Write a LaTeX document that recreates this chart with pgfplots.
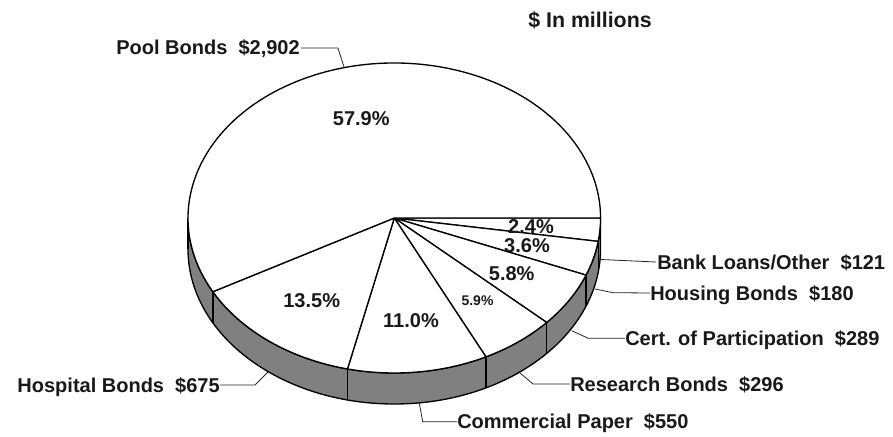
\documentclass[border=0pt]{standalone}
\usepackage{pgfplots}
\usepackage{pgfplotstable}
\pgfplotsset{compat=1.18}
\usepackage{fontspec}
\setmainfont{Liberation Sans}
\definecolor{sidegray}{RGB}{128,128,128}
\pgfplotstableread{
value
121
180
289
296
550
675
2902
}\piedata
\begin{document}
\begin{tikzpicture}[
  pieline/.style={draw=black, line width=1pt, line join=round},
  lead/.style={draw=black!85, line width=0.6pt},
  lbl/.style={font=\fontsize{15}{18}\selectfont\bfseries, inner sep=0pt, text=black!90},
  pct/.style={font=\fontsize{15}{18}\selectfont\bfseries, inner sep=0pt, text=black!90, anchor=center},
]
% cumulative angles from the data (clockwise from 3 o'clock)
\pgfplotstablegetrowsof{\piedata}
\pgfmathtruncatemacro\pielast{\pgfplotsretval-1}
\gdef\pietotal{0}
\foreach \i in {0,...,\pielast}{%
  \pgfplotstablegetelem{\i}{value}\of\piedata
  \pgfmathsetmacro\pietmp{\pietotal+\pgfplotsretval}%
  \xdef\pietotal{\pietmp}}
\gdef\piecum{0}
\foreach \i in {0,...,\pielast}{%
  \pgfplotstablegetelem{\i}{value}\of\piedata
  \pgfmathsetmacro\pieS{-360*(\piecum/\pietotal)}%
  \pgfmathsetmacro\pienew{\piecum+\pgfplotsretval}%
  \pgfmathsetmacro\pieE{-360*(\pienew/\pietotal)}%
  \expandafter\xdef\csname pies\i\endcsname{\pieS}%
  \expandafter\xdef\csname piee\i\endcsname{\pieE}%
  \xdef\piecum{\pienew}}
\begin{axis}[x=0.75pt, y=0.75pt, xmin=0, xmax=893, ymin=0, ymax=436,
  hide axis, clip=false]
% side of the pie
\draw[pieline, fill=sidegray] (axis cs:188,218) arc[start angle=180, end angle=360, x radius=154.7pt, y radius=116.25pt]
   -- ++(0pt,-23.25pt) arc[start angle=360, end angle=180, x radius=154.7pt, y radius=116.25pt] -- cycle;
\draw[pieline] (axis cs:188,218) -- ++(0pt,-23.25pt);
\draw[pieline] (axis cs:600.6,218) -- ++(0pt,-23.25pt);
\pgfplotsinvokeforeach{0,...,5}{%
  \draw[pieline] (axis cs:394.3,218) ++(\csname piee#1\endcsname:154.7pt and 116.25pt) -- ++(0pt,-23.25pt);
}
% top face slices
\pgfplotsinvokeforeach{0,...,6}{%
  \draw[pieline, fill=white] (axis cs:394.3,218) -- ++(\csname pies#1\endcsname:154.7pt and 116.25pt)
    arc[start angle=\csname pies#1\endcsname, end angle=\csname piee#1\endcsname, x radius=154.7pt, y radius=116.25pt] -- cycle;
}
% leader lines
\draw[lead] (axis cs:301,388) -- (axis cs:338,388) -- (axis cs:344,369);
\draw[lead] (axis cs:220,51) -- (axis cs:255,51) -- (axis cs:268,64);
\draw[lead] (axis cs:457,14.3) -- (axis cs:422.7,14.3) -- (axis cs:419.3,33);
\draw[lead] (axis cs:570,52) -- (axis cs:533,52) -- (axis cs:520,63);
\draw[lead] (axis cs:625,97.7) -- (axis cs:588.3,97.7) -- (axis cs:571.7,105.3);
\draw[lead] (axis cs:650,143) -- (axis cs:613,143.3) -- (axis cs:595,147);
\draw[lead] (axis cs:656,174) -- (axis cs:600.7,176.5);
% category labels
\node[lbl, anchor=base east] at (axis cs:300,381) {Pool Bonds~~\$2,902};
\node[lbl, anchor=base east] at (axis cs:220,44) {Hospital Bonds~~\$675};
\node[lbl, anchor=base west] at (axis cs:457,7.3) {Commercial Paper~~\$550};
\node[lbl, anchor=base west] at (axis cs:570,45) {Research Bonds~~\$296};
\node[lbl, anchor=base west] at (axis cs:625,90.7) {Cert. of Participation~~\$289};
\node[lbl, anchor=base west] at (axis cs:650,136) {Housing Bonds~~\$180};
\node[lbl, anchor=base west] at (axis cs:657,167) {Bank Loans/Other~~\$121};
% percentages
\node[pct] at (axis cs:361.3,317) {57.9\%};
\node[pct] at (axis cs:311.7,135.5) {13.5\%};
\node[pct] at (axis cs:411,115) {11.0\%};
\node[pct, font=\fontsize{10.5}{12}\selectfont\bfseries] at (axis cs:477.5,135.5) {5.9\%};
\node[pct] at (axis cs:511.7,162.7) {5.8\%};
\node[pct] at (axis cs:527,190.2) {3.6\%};
\node[pct] at (axis cs:531,209.7) {2.4\%};
% title
\node[lbl, font=\fontsize{16}{19}\selectfont\bfseries, anchor=center] at (axis cs:590,416) {\$ In millions};
\end{axis}
\pgfresetboundingbox
\path (0,0) rectangle (669.75pt,327pt);
\end{tikzpicture}
\end{document}
